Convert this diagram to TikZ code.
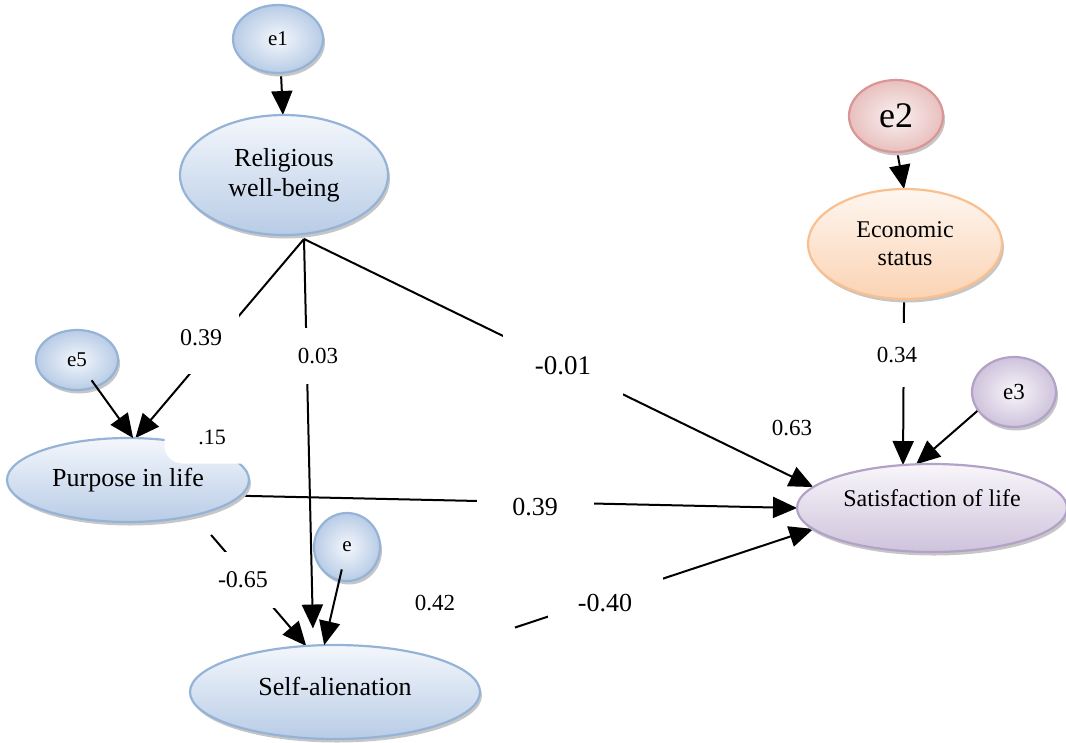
\documentclass[tikz,border=0pt]{standalone}
\usepackage{fontspec}
\setmainfont{Liberation Serif}
\usetikzlibrary{shapes.geometric,shadows,arrows.meta,backgrounds}
\definecolor{blueline}{HTML}{95B3D7}
\definecolor{bluelight}{HTML}{F4F7FC}
\definecolor{bluedark}{HTML}{B8CCE6}
\definecolor{orangeline}{HTML}{F9BF8F}
\definecolor{orangelight}{HTML}{FEF6F0}
\definecolor{orangedark}{HTML}{FBD3B3}
\definecolor{roseline}{HTML}{D99694}
\definecolor{roselight}{HTML}{FAF1F1}
\definecolor{rosedark}{HTML}{E8C0BF}
\definecolor{purpleline}{HTML}{B3A2C7}
\definecolor{purplelight}{HTML}{F8F6FA}
\definecolor{purpledark}{HTML}{CEC3DC}
\begin{document}
\begin{tikzpicture}[x=1pt,y=-1pt,
  every node/.style={inner sep=0pt,outer sep=0pt},
  var/.style={ellipse,draw=#1line,line width=2.2pt,top color=#1light,bottom color=#1dark,align=center,
    drop shadow={shadow xshift=2pt,shadow yshift=-3.5pt,fill=gray!45,opacity=1}},
  err/.style={var=#1,inner color=#1light,outer color=#1dark},
  link/.style={line width=2pt,-{Triangle[length=24pt,width=21pt]}},
  coef/.style={fill=white,font=\fontsize{23}{27}\selectfont}]
  \useasboundingbox (0,0) rectangle (1066,742);
  % variables
  \node[err=blue,minimum width=90pt,minimum height=68pt,font=\fontsize{21}{25}\selectfont] (e1) at (278,39) {e1};
  \node[var=blue,minimum width=208pt,minimum height=120pt,font=\fontsize{26}{30}\selectfont] (rw) at (284,175) {Religious\\well-being};
  \node[err=rose,minimum width=94pt,minimum height=72pt,font=\fontsize{36}{40}\selectfont] (e2) at (896,116) {e2};
  \node[var=orange,minimum width=194pt,minimum height=110pt,font=\fontsize{24}{28}\selectfont] (es) at (905,244) {Economic\\status};
  \node[err=blue,minimum width=82pt,minimum height=60pt,font=\fontsize{21}{25}\selectfont] (e5) at (77,360) {e5};
  \node[var=blue,minimum width=242pt,minimum height=84pt,font=\fontsize{26}{30}\selectfont] (pil) at (128,480) {Purpose in life};
  \node[err=blue,minimum width=66pt,minimum height=68pt,font=\fontsize{21}{25}\selectfont] (e) at (347,547) {e};
  \node[var=blue,minimum width=290pt,minimum height=94pt,text depth=12pt,font=\fontsize{26}{30}\selectfont] (sa) at (335,692) {Self-alienation};
  \node[err=purple,minimum width=84pt,minimum height=70pt,font=\fontsize{23}{27}\selectfont] (e3) at (1014,392) {e3};
  \node[var=purple,minimum width=270pt,minimum height=88pt,text depth=19pt,font=\fontsize{24}{28}\selectfont] (sl) at (932,508) {Satisfaction of life};
  \coordinate (rwo) at ([xshift=20pt,yshift=-4pt]rw.south);
  % paths
  \begin{scope}[on background layer]
    \draw[link] (e1.-85) -- (rw.91);
    \draw[link] (e2.-88) -- (es.91);
    \draw[link] (e3.207) -- (sl.110);
    \draw[link] (rwo) -- (pil.80);
    \draw[link,shorten >=17pt] (rwo) -- (sa.115);
    \draw[link] (rwo) -- (sl.170);
    \draw[link] (pil.-8) -- (sl.180);
    \draw[link,shorten <=26pt] (pil.-28) -- (sa.122);
    \draw[link,shorten <=91pt] (sa.21) -- (sl.190);
    \draw[link] (es.-91) -- (sl.124);
  \end{scope}
  \draw[link,shorten <=25pt] (e5.center) -- (pil.83);
  \draw[link,shorten <=23pt] (e.center) -- (sa.103);
  % coefficients
  \node[coef,font=\fontsize{24}{28}\selectfont,minimum width=76pt,minimum height=72pt] (c1) at (201,338) {0.39};
  \node[coef,minimum width=56pt,minimum height=56pt] (c2) at (318,356) {0.03};
  \node[coef,font=\fontsize{27}{31}\selectfont,minimum width=120pt,minimum height=74pt] (c3) at (563,366) {-0.01};
  \node[coef,font=\fontsize{26}{30}\selectfont,minimum width=117pt,minimum height=50pt] (c4) at (535,507) {0.39};
  \node[coef,font=\fontsize{24}{28}\selectfont,minimum width=64pt,minimum height=56pt] (c5) at (243,580) {-0.65};
  \node[coef,inner sep=3pt] (c6) at (435,603) {0.42};
  \node[coef,font=\fontsize{26}{30}\selectfont,minimum width=115pt,minimum height=56pt] (c7) at (605,603) {-0.40};
  \node[coef,inner sep=3pt] (c8) at (792,428) {0.63};
  \node[coef,minimum width=56pt,minimum height=64pt] (c9) at (897,355) {0.34};
  \node[coef,font=\fontsize{22}{26}\selectfont,rounded corners=18pt,minimum width=95pt,minimum height=53pt] (c10) at (212,437) {.15};
\end{tikzpicture}
\end{document}
